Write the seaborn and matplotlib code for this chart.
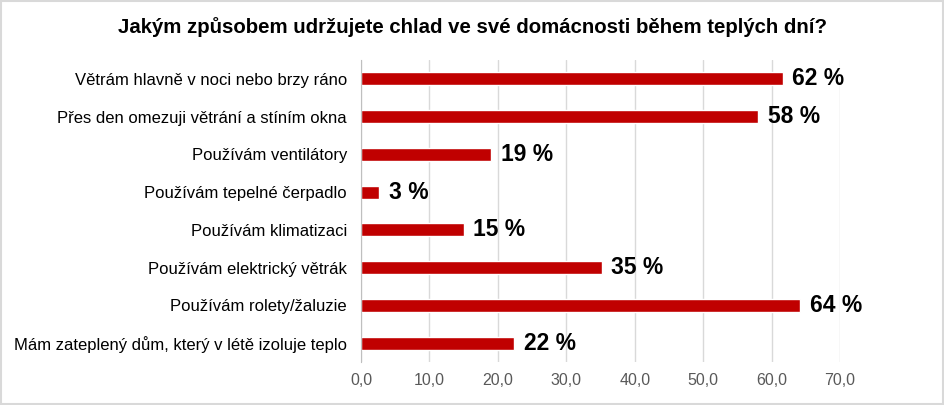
import matplotlib
matplotlib.use("Agg")
import matplotlib.pyplot as plt
import matplotlib.ticker as mticker
import pandas as pd
import seaborn as sns

# Data
categories = [
    "Větrám hlavně v noci nebo brzy ráno",
    "Přes den omezuji větrání a stíním okna",
    "Používám ventilátory",
    "Používám tepelné čerpadlo",
    "Používám klimatizaci",
    "Používám elektrický větrák",
    "Používám rolety/žaluzie",
    "Mám zateplený dům, který v létě izoluje teplo",
]
values = [61.6, 58.0, 19.0, 2.7, 15.0, 35.2, 64.2, 22.4]
labels = ["62 %", "58 %", "19 %", "3 %", "15 %", "35 %", "64 %", "22 %"]

df = pd.DataFrame({"Category": categories, "Value": values})

sns.set_style("white")
plt.rcParams['font.family'] = ['Liberation Sans', 'DejaVu Sans']
plt.rcParams['text.color'] = 'black'

fig = plt.figure(figsize=(9.45, 4.05), dpi=100)
fig.patches.append(plt.Rectangle((0.001, 0.002), 0.997, 0.995, transform=fig.transFigure,
                                 fill=False, edgecolor="#d9d9d9", linewidth=1.5))
ax = fig.add_axes([0.382, 0.106, 0.507, 0.746])

sns.barplot(data=df, y="Category", x="Value", orient="h", color="#c00000",
            width=0.35, saturation=1, ax=ax)

for i, (v, t) in enumerate(zip(values, labels)):
    ax.text(v + 1.4, i, t, va="center", ha="left", fontsize=16.5,
            fontweight="bold", color="black")

ax.set_xlim(0, 70)
ax.set_xticks(range(0, 71, 10))
ax.xaxis.set_major_formatter(mticker.FuncFormatter(lambda x, p: f"{x:.1f}".replace(".", ",")))
ax.grid(axis="x", color="#d9d9d9", linewidth=1)
ax.set_axisbelow(True)
for s in ["top", "right", "bottom"]:
    ax.spines[s].set_visible(False)
ax.spines["left"].set_color("#bfbfbf")
ax.tick_params(axis="x", colors="#595959", labelsize=11.5, length=0, pad=8)
ax.tick_params(axis="y", labelsize=12, length=0, pad=10, labelcolor="black")
ax.set_xlabel(None)
ax.set_ylabel(None)

fig.text(0.5, 0.933, "Jakým způsobem udržujete chlad ve své domácnosti během teplých dní?",
         ha="center", va="center", fontsize=14.7, fontweight="bold", color="black")

plt.savefig("out.png", dpi=100)
